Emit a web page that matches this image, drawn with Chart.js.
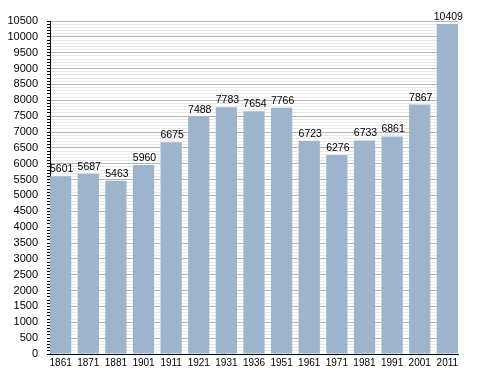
<!DOCTYPE html>
<html>
<head>
<meta charset="utf-8">
<script src="https://cdn.jsdelivr.net/npm/chart.js@4/dist/chart.umd.min.js"></script>
<style>
  html, body { margin: 0; padding: 0; background: #fff; }
  #wrap { width: 488px; height: 373px; }
</style>
</head>
<body>
<div id="wrap"><canvas id="myChart"></canvas></div>
<script>
// population by census year
var years = ['1861', '1871', '1881', '1901', '1911', '1921', '1931', '1936', '1951', '1961', '1971', '1981', '1991', '2001', '2011'];
var population = [5601, 5687, 5463, 5960, 6675, 7488, 7783, 7654, 7766, 6723, 6276, 6733, 6861, 7867, 10409];
var yMax = 10500;
var yMajor = 500;
var yMinor = 100;

var barFrac = 0.77;
var points = [];
for (var i = 0; i < population.length; i++) {
  points.push({ x: i, y: population[i] });
}

// value labels above each bar
var valueLabels = {
  id: 'valueLabels',
  afterDatasetsDraw: function(chart) {
    var ctx = chart.ctx;
    var meta = chart.getDatasetMeta(0);
    ctx.save();
    ctx.font = '10.5px "Liberation Sans", Arial, sans-serif';
    ctx.fillStyle = '#000';
    ctx.textAlign = 'center';
    ctx.textBaseline = 'alphabetic';
    meta.data.forEach(function(bar, i) {
      ctx.fillText(population[i], bar.x + 1, bar.y - 4);
    });
    ctx.restore();
  }
};

var ctx = document.getElementById('myChart').getContext('2d');
var myChart = new Chart(ctx, {
  type: 'bar',
  data: {
    datasets: [{
      data: points,
      backgroundColor: '#9db4cd',
      borderWidth: 0,
      categoryPercentage: 1,
      barPercentage: barFrac
    }]
  },
  options: {
    responsive: true,
    maintainAspectRatio: false,
    animation: false,
    layout: { padding: { top: 21, right: 30, left: 0, bottom: 0 } },
    plugins: { legend: { display: false }, tooltip: { enabled: false } },
    scales: {
      x: {
        type: 'linear',
        offset: false,
        min: -barFrac / 2,
        max: years.length - 1 + barFrac / 2,
        afterFit: function(scale) { scale.height = 19; },
        border: { display: true, color: '#000', width: 1 },
        grid: { display: false, drawTicks: false, offset: false },
        ticks: {
          stepSize: 1,
          includeBounds: false,
          autoSkip: false,
          maxRotation: 0,
          padding: 3,
          color: '#000',
          font: { family: '"Liberation Sans", Arial, sans-serif', size: 10 },
          callback: function(v) {
            return Number.isInteger(v) ? years[v] : '';
          }
        }
      },
      y: {
        min: 0,
        max: yMax,
        afterFit: function(scale) { scale.width = 50; },
        border: { display: true, color: '#000', width: 1 },
        grid: {
          color: function(c) {
            return c.tick.value % yMajor === 0 ? '#b4b4b4' : '#e8e8e8';
          },
          tickColor: '#000',
          tickLength: 3,
          drawOnChartArea: true
        },
        ticks: {
          stepSize: yMinor,
          maxTicksLimit: 200,
          autoSkip: false,
          padding: 9,
          color: '#000',
          font: { family: '"Liberation Sans", Arial, sans-serif', size: 11 },
          callback: function(v) {
            return v % yMajor === 0 ? String(v) : '';
          }
        }
      }
    }
  },
  plugins: [valueLabels]
});
</script>
</body>
</html>
